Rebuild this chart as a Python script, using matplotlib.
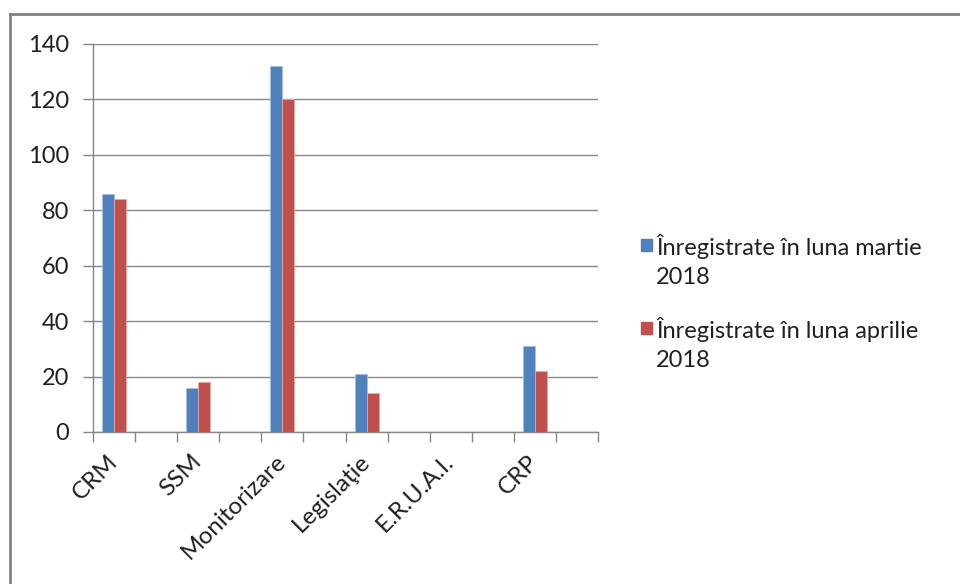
import numpy as np
import matplotlib
matplotlib.use('Agg')
import matplotlib.pyplot as plt
from matplotlib.lines import Line2D
from matplotlib.patches import Rectangle

# 12 slots on the axis, only every other one carries a label/value
categories = ["CRM", "", "SSM", "", "Monitorizare", "", "Legislaţie", "",
              "E.R.U.A.I.", "", "CRP", ""]
martie = [86, np.nan, 16, np.nan, 132, np.nan, 21, np.nan, 0, np.nan, 31, np.nan]
aprilie = [84, np.nan, 18, np.nan, 120, np.nan, 14, np.nan, 0, np.nan, 22, np.nan]
series_names = ["Înregistrate în luna martie\n2018", "Înregistrate în luna aprilie\n2018"]
yticks = [0, 20, 40, 60, 80, 100, 120, 140]

BLUE = "#4F81BD"
RED = "#C0504D"
GRID = "#868686"
TXT = '#202020'

plt.rcParams['font.family'] = ['Lato', 'DejaVu Sans']

W, H = 960, 584
fig = plt.figure(figsize=(W / 100, H / 100), dpi=100)
ax = fig.add_axes([93 / W, (H - 432) / H, (598 - 93) / W, 388 / H])

x = np.arange(len(categories))
bw = 0.285
ax.bar(x - bw / 2, martie, width=bw, color=BLUE, edgecolor="#A7C0DE", linewidth=0.6, zorder=3)
ax.bar(x + bw / 2, aprilie, width=bw, color=RED, edgecolor="#E0A9A8", linewidth=0.6, zorder=3)

ax.set_xlim(-0.5, len(categories) - 0.5)
ax.set_ylim(0, 140)
ax.set_yticks(yticks)
ax.set_yticklabels([str(v) for v in yticks], fontsize=17, color=TXT)
ax.yaxis.grid(True, color=GRID, linewidth=1, zorder=0)
ax.tick_params(axis='y', length=7, width=1, color=GRID, pad=10)

ax.set_xticks(x)
ax.set_xticklabels(categories, rotation=45, ha='right', va='center', rotation_mode='anchor',
                   fontsize=17.5, color=TXT)
ax.set_xticks(np.arange(-0.5, len(categories)), minor=True)
ax.tick_params(axis='x', which='major', length=0, pad=19)
ax.tick_params(axis='x', which='minor', length=7, width=1, color=GRID)

for side in ['top', 'right']:
    ax.spines[side].set_visible(False)
for side in ['left', 'bottom']:
    ax.spines[side].set_color(GRID)
    ax.spines[side].set_linewidth(1)

# legend drawn by hand so the square sits on the first text line (Excel style)
leg_colors = [BLUE, RED]
for i, (name, col) in enumerate(zip(series_names, leg_colors)):
    yc = 245 + i * 83
    fig.add_artist(Rectangle((641 / W, 1 - (yc + 6) / H), 11 / W, 12 / H,
                             transform=fig.transFigure, color=col))
    fig.text(656 / W, 1 - (yc - 11) / H, name, fontsize=17, color=TXT,
             ha='left', va='top', linespacing=1.45)

# chart frame (only left and top edges visible in the crop)
fig.add_artist(Line2D([10 / W, 10 / W], [0, 1 - 14 / H], transform=fig.transFigure,
                      color="#808080", linewidth=2))
fig.add_artist(Line2D([10 / W, 1], [1 - 14 / H, 1 - 14 / H], transform=fig.transFigure,
                      color="#808080", linewidth=2))

fig.savefig("out.png", dpi=100)
